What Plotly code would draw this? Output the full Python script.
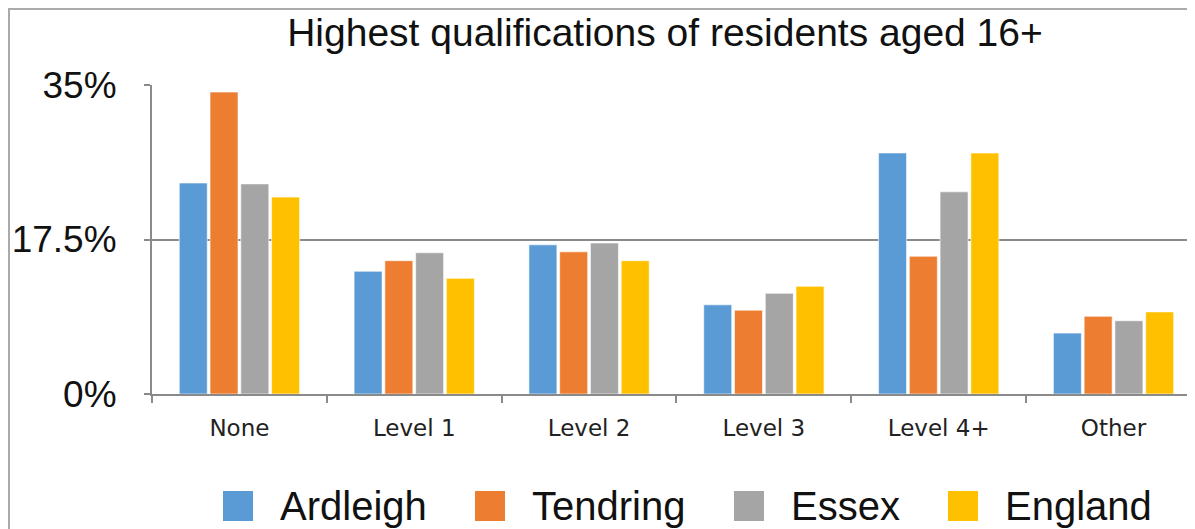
import plotly.graph_objs as go

categories = ['None', 'Level 1', 'Level 2', 'Level 3', 'Level 4+', 'Other']
ardleigh = [23.9, 13.9, 16.9, 10.1, 27.3, 6.9]
tendring = [34.2, 15.1, 16.1, 9.5, 15.6, 8.8]
essex = [23.8, 16.0, 17.1, 11.4, 22.9, 8.3]
england = [22.3, 13.1, 15.1, 12.2, 27.3, 9.3]

y_ticks = [0, 17.5, 35]
y_tick_labels = ['0%', '17.5%', '35%']

series = [
    ('Ardleigh', ardleigh, '#5B9BD5'),
    ('Tendring', tendring, '#ED7D31'),
    ('Essex', essex, '#A5A5A5'),
    ('England', england, '#FFC000'),
]

# page body has an 8px margin, so the figure is a bit smaller than the window
W, H = 1187, 521
ML, MT, MB = 144, 77, 135
plot_w = W - ML
plot_h = H - MT - MB


def px_x(px):
    return (px - ML) / plot_w


def px_y(py):
    return (H - MB - py) / plot_h


fig = go.Figure()
for name, values, colour in series:
    fig.add_trace(go.Bar(
        x=categories,
        y=values,
        name=name,
        showlegend=False,
        marker=dict(color=colour, line=dict(color='rgba(255,255,255,0.6)', width=1))
    ))

# legend drawn by hand: big square swatches like the original
legend_left = [215, 467, 726, 940]
shapes = [dict(type='rect', xref='paper', yref='paper',
               x0=px_x(1), x1=1.05, y0=-0.6, y1=px_y(1),
               line=dict(color='#aaaaaa', width=2), layer='below')]
annotations = []
for (name, _, colour), lx in zip(series, legend_left):
    shapes.append(dict(type='rect', xref='paper', yref='paper',
                       x0=px_x(lx), x1=px_x(lx + 30), y0=px_y(513), y1=px_y(483),
                       fillcolor=colour, line=dict(width=0)))
    annotations.append(dict(text=name, xref='paper', yref='paper',
                            x=px_x(lx + 55), y=px_y(498), xanchor='left', yanchor='middle',
                            showarrow=False,
                            font=dict(family='Liberation Sans', size=40, color='#111')))

fig.update_layout(
    width=W,
    height=H,
    title=dict(text='Highest qualifications of residents aged 16+',
               x=px_x(657), xref='paper', xanchor='center', y=1 - 24 / H, yanchor='middle',
               font=dict(family='Liberation Sans', size=39, color='#111')),
    barmode='group',
    bargap=0.296,
    bargroupgap=0.09,
    plot_bgcolor='white',
    paper_bgcolor='white',
    margin=dict(l=ML, r=0, t=MT, b=MB, autoexpand=False),
    xaxis=dict(
        type='category',
        range=[-0.5, 5.466],
        automargin=False,
        showline=True, linecolor='#8a8a8a', linewidth=2,
        ticks='outside', tickson='boundaries', ticklen=7, tickcolor='#8a8a8a', tickwidth=1.5,
        ticklabelstandoff=12,
        showgrid=False,
        tickfont=dict(family='DejaVu Sans', size=23, color='#222'),
    ),
    yaxis=dict(
        range=[0, 35],
        automargin=False,
        tickvals=y_ticks, ticktext=y_tick_labels,
        showline=True, linecolor='#8a8a8a', linewidth=2,
        ticks='outside', ticklen=6, tickcolor='#8a8a8a', tickwidth=1.5,
        showgrid=True, gridcolor='#8a8a8a', gridwidth=1.5,
        zeroline=False,
        ticklabelstandoff=20,
        tickfont=dict(family='Liberation Sans', size=37, color='#111'),
    ),
    showlegend=False,
    shapes=shapes,
    annotations=annotations,
)

fig.write_html("out.html")
